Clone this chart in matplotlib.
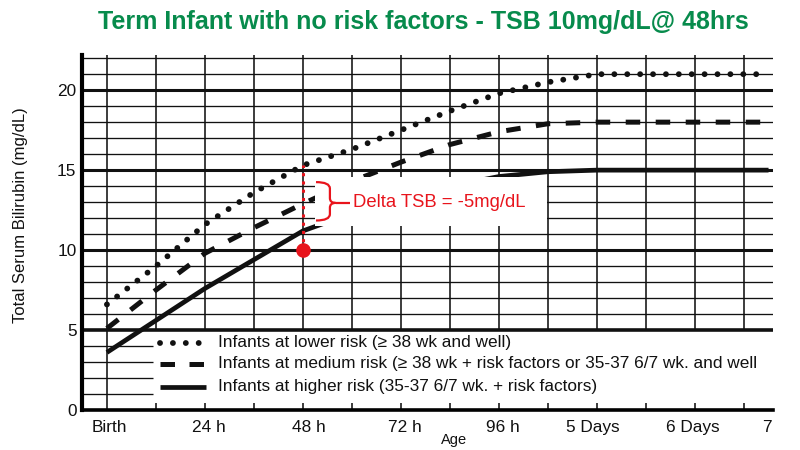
import matplotlib
matplotlib.use('Agg')
import matplotlib.pyplot as plt
from matplotlib import font_manager
from matplotlib.path import Path
from matplotlib.patches import PathPatch, Rectangle

# ---------------- data ----------------
hours = [0, 12, 24, 36, 48, 60, 72, 84, 96, 108, 120, 132, 144, 156, 162]
low_risk = [6.6, 9.0, 11.6, 13.6, 15.3, 16.3, 17.5, 18.7, 19.8, 20.5, 21.0, 21.0, 21.0, 21.0, 21.0]
med_risk = [5.1, 7.5, 9.8, 11.4, 12.9, 14.3, 15.5, 16.6, 17.4, 17.9, 18.0, 18.0, 18.0, 18.0, 18.0]
high_risk = [3.6, 5.6, 7.6, 9.4, 11.2, 12.3, 13.2, 14.0, 14.6, 14.9, 15.0, 15.0, 15.0, 15.0, 15.0]

measured_age = 48
measured_tsb = 10

legend_labels = [
    "Infants at lower risk (\u2265 38 wk and well)",
    "Infants at medium risk (\u2265 38 wk + risk factors or 35-37 6/7 wk. and well",
    "Infants at higher risk (35-37 6/7 wk. + risk factors)",
]
xtick_labels = ["Birth", "24 h", "48 h", "72 h", "96 h", "5 Days", "6 Days", "7"]
xtick_pos = [0.5, 25, 49.5, 73, 97, 119, 143.5, 161.7]
ytick_vals = [0, 5, 10, 15, 20]
grid_hours = list(range(12, 157, 12))
title = "Term Infant with no risk factors - TSB 10mg/dL@ 48hrs"
delta_text = "Delta TSB = -5mg/dL"

# ---------------- fonts ----------------
names = {f.name for f in font_manager.fontManager.ttflist}
narrow = 'Liberation Sans Narrow' in names
base = ['Liberation Sans', 'DejaVu Sans']
plt.rcParams['font.family'] = base
if narrow:
    title_font = dict(family=['Liberation Sans Narrow', 'Liberation Sans'], size=20.5)
    red_font = dict(family=['Liberation Sans Narrow', 'Liberation Sans'], size=16)
else:
    title_font = dict(family=base, size=18)
    red_font = dict(family=base, size=13.3)

GREEN = '#078b4c'
RED = '#e8141c'
K = '#111111'

fig = plt.figure(figsize=(8, 4.5), dpi=100)
ax = fig.add_axes([0.1025, 0.0889, 0.8638, 0.7889])
XL, XR = -6.1, 163.1
YT = 22.2
ax.set_xlim(XL, XR)
ax.set_ylim(0, YT)

# grid
for v in range(1, 23):
    if v in (10, 15, 20):
        ax.hlines(v, XL, XR, color=K, lw=2.2, zorder=1.5)
    elif v == 5:
        ax.hlines(v, XL, XR, color=K, lw=2.6, zorder=1.5)
    elif v < 5:
        ax.hlines(v, XL, 11.4, color=K, lw=0.95, zorder=1)
    else:
        ax.hlines(v, XL, XR, color=K, lw=0.95, zorder=1)
ax.vlines(0, 0, YT, color=K, lw=1.15, zorder=1)
ax.vlines(grid_hours, 5, YT, color=K, lw=1.15, zorder=1)
ax.vlines(grid_hours, 0, 0.45, color=K, lw=1.15, zorder=1)

# curves
DOT = (0, (0.01, 2.2))
ax.plot(hours, low_risk, color=K, lw=4.2, linestyle=DOT,
        dash_capstyle='round', solid_capstyle='round', zorder=3)
ax.plot(hours, med_risk, color=K, lw=3.6, linestyle=(0, (2.9, 3.1)),
        dash_capstyle='butt', zorder=3)
ax.plot(hours, high_risk, color=K, lw=3.4, solid_capstyle='butt', zorder=3)

# legend (manual)
leg_y = [4.2, 2.88, 1.45]
ax.plot([13.0, 22.6], [leg_y[0]] * 2, color=K, lw=4.2, linestyle=DOT,
        dash_capstyle='round', zorder=3)
ax.plot([13.0, 24.2], [leg_y[1]] * 2, color=K, lw=3.6, linestyle=(0, (2.9, 2.9)),
        dash_capstyle='butt', zorder=3)
ax.plot([13.0, 24.2], [leg_y[2]] * 2, color=K, lw=3.4, solid_capstyle='butt', zorder=3)
for yy, lab in zip(leg_y, legend_labels):
    ax.text(27.2, yy, lab, fontsize=12.4, color=K, va='center', ha='left', zorder=3)

# annotation box
ax.add_patch(Rectangle((50.9, 11.5), 56.9, 3.05, facecolor='white', edgecolor='none', zorder=4))
ax.vlines(measured_age, measured_tsb, low_risk[hours.index(measured_age)], color=RED, lw=2.2,
          linestyle=(0, (1, 1.7)), zorder=5)
ax.plot([measured_age], [measured_tsb], 'o', color=RED, markersize=9.5, zorder=6)

x0, xm, xt, xe = 51.2, 54.6, 56.0, 59.6
ytop, ymid, ybot = 14.25, 12.95, 11.85
verts = [(x0, ytop), (xm, ytop), (xm, ytop - 0.4), (xm, ymid + 0.3), (xm, ymid), (xt, ymid),
         (xt, ymid), (xm, ymid), (xm, ymid - 0.3), (xm, ybot + 0.4), (xm, ybot), (x0, ybot)]
codes = [Path.MOVETO, Path.CURVE3, Path.CURVE3, Path.LINETO, Path.CURVE3, Path.CURVE3,
         Path.MOVETO, Path.CURVE3, Path.CURVE3, Path.LINETO, Path.CURVE3, Path.CURVE3]
ax.add_patch(PathPatch(Path(verts, codes), facecolor='none', edgecolor=RED, lw=1.6, zorder=5))
ax.hlines(ymid, xt, xe, color=RED, lw=1.6, zorder=5)
ax.text(60.3, 12.98, delta_text, color=RED, va='center', ha='left', zorder=6, **red_font)

# axes styling
for s in ('top', 'right'):
    ax.spines[s].set_visible(False)
ax.spines['left'].set_linewidth(3.0)
ax.spines['bottom'].set_linewidth(2.6)
ax.spines['left'].set_zorder(7)
ax.spines['bottom'].set_zorder(7)
ax.set_yticks(ytick_vals)
ax.set_yticklabels([str(v) for v in ytick_vals])
ax.set_xticks(xtick_pos)
ax.set_xticklabels(xtick_labels)
ax.tick_params(axis='both', length=0, labelsize=12.4, colors=K)
ax.tick_params(axis='y', pad=4)
ax.tick_params(axis='x', pad=7)
ax.set_ylabel("Total Serum Bilirubin (mg/dL)", fontsize=12, color=K)
ax.yaxis.set_label_coords(-0.078, 0.549)
fig.text(0.5675, 0.022, "Age", fontsize=10.5, ha='center', va='center', color=K)

fig.text(0.529, 0.951, title, ha='center', va='center', color=GREEN, fontweight='bold', **title_font)

fig.savefig('out.png', dpi=100, facecolor='white')
